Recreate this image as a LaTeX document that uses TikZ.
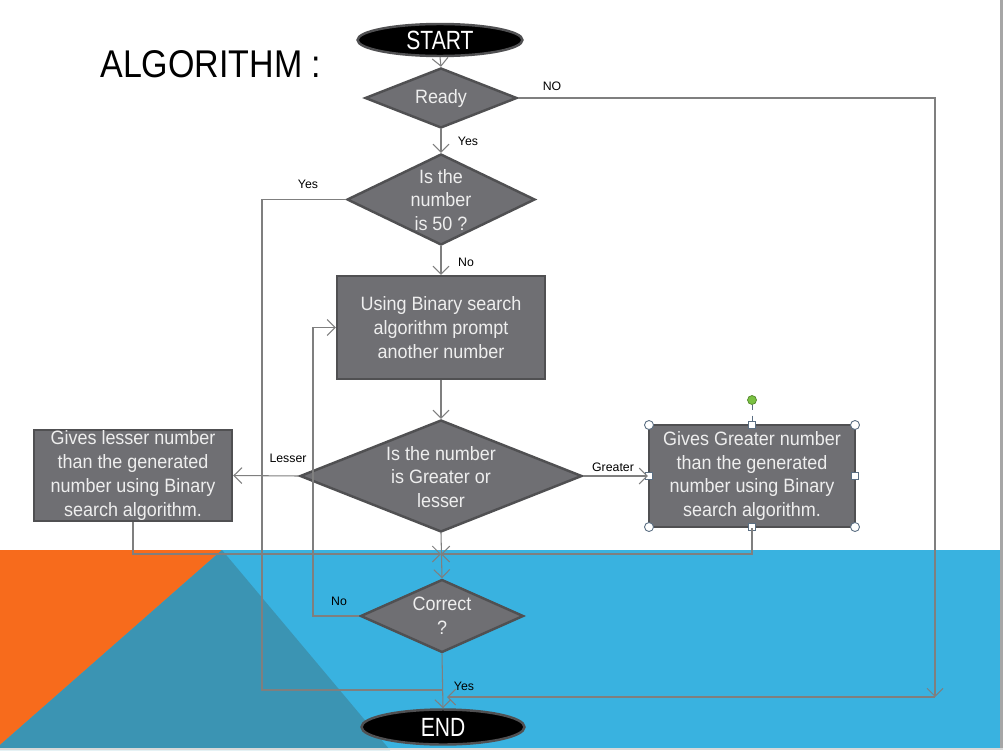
\documentclass[tikz,border=0pt]{standalone}
\usepackage{fontspec}
\newfontfamily\nf[FakeStretch=0.88]{Liberation Sans}
\newfontfamily\boxfont[FakeStretch=0.93]{Liberation Sans}
\newfontfamily\termfont[FakeStretch=0.8]{Liberation Sans}
\newfontfamily\lf{Liberation Sans}
\usetikzlibrary{shapes.geometric,arrows.meta}
\definecolor{bluec}{RGB}{57,178,224}
\definecolor{orangec}{RGB}{247,107,28}
\definecolor{tealc}{RGB}{59,148,179}
\definecolor{nodefill}{RGB}{111,111,115}
\definecolor{nodeborder}{RGB}{80,80,82}
\definecolor{connc}{RGB}{127,127,127}
\definecolor{txtc}{RGB}{238,238,238}
\definecolor{handlec}{RGB}{90,110,130}
\definecolor{greenc}{RGB}{122,193,66}
\tikzset{
  conn/.style={draw=connc, line width=0.6pt},
  arr/.style={conn, -{Straight Barb[length=4.5pt,width=9pt]}},
  term/.style={ellipse, fill=black, draw=nodeborder, line width=1.4pt, inner sep=0pt,
     text=white, font=\termfont\fontsize{15}{18}\selectfont},
  dec/.style={diamond, fill=nodefill, draw=nodeborder, line width=1.4pt, inner sep=0pt},
  dtext/.style={text=txtc, align=center, inner sep=0pt, font=\boxfont\fontsize{11}{13.6}\selectfont},
  proc/.style={rectangle, fill=nodefill, draw=nodeborder, line width=1.4pt, inner sep=0pt,
     text=txtc, align=center, font=\boxfont\fontsize{11}{13.6}\selectfont},
  lab/.style={text=black, inner sep=0pt, font=\lf\fontsize{7}{8}\selectfont},
  handle/.style={fill=white, draw=handlec, line width=0.5pt}
}
\begin{document}
\begin{tikzpicture}[x=0.02cm,y=-0.02cm]
% background
\fill[white] (0,0) rectangle (1003,750);
\useasboundingbox (0,0) rectangle (1003,750);
\fill[bluec] (0,550) rectangle (1003,750);
\fill[orangec] (0,550) -- (222,550) -- (0,745) -- cycle;
\fill[tealc] (222,550) -- (390,750) -- (0,750) -- (0,745) -- cycle;
\fill[black!35] (1000,0) rectangle (1003,750);
\fill[black!15] (0,748) rectangle (1003,750);

% title
\node[anchor=west, inner sep=0pt, font=\nf\fontsize{22}{26}\selectfont] (title) at (100,64) {ALGORITHM :};

% nodes
\node[term, minimum width=3.3cm, minimum height=0.64cm] (start) at (440,40) {START};
\node[dec, minimum width=3.04cm, minimum height=1.2cm] (ready) at (441,98) {};
\node[dtext] (readyt) at (441,99) {Ready};
\node[dec, minimum width=3.76cm, minimum height=1.82cm] (is50) at (441,199.5) {};
\node[dtext] (is50t) at (441,200) {Is the\\number\\is 50 ?};
\node[proc, minimum width=4.16cm, minimum height=2.06cm] (proc) at (441,327.5) {Using Binary search\\algorithm  prompt\\another number};
\node[dec, minimum width=5.64cm, minimum height=2.24cm] (gl) at (441,476) {};
\node[dtext] (glt) at (441,477) {Is the number\\is Greater  or\\lesser};
\node[proc, minimum width=3.96cm, minimum height=1.82cm] (lbox) at (133,475.5) {Gives lesser number\\than the generated\\number  using Binary\\search algorithm.};
\node[proc, minimum width=4.12cm, minimum height=2.04cm] (rbox) at (752,476) {Gives Greater  number\\than the generated\\number  using Binary\\search algorithm.};
\node[dec, minimum width=3.26cm, minimum height=1.46cm] (cor) at (442,616) {};
\node[dtext] (cort) at (442,616) {Correct\\?};
\node[term, minimum width=3.26cm, minimum height=0.7cm] (end) at (443,727) {END};

% selection handles on right box
\draw[handlec, line width=0.5pt, dashed] (752,405) -- (752,425);
\filldraw[fill=greenc, draw=greenc!70!black, line width=0.4pt] (752,400) circle (4.5);
\foreach \p in {(649,425),(855,425),(649,527),(855,527)} \filldraw[handle] \p circle (4.5);
\foreach \p in {(752,425),(752,527),(649,476),(855,476)} \filldraw[handle] \p ++(-3.5,-3.5) rectangle ++(7,7);

% coordinates
\coordinate (nc) at (935,697);
\coordinate (ne) at (447,697);
\coordinate (yj) at (443,690);
\coordinate (mj) at (441,554);

% connectors
\draw[arr] (start.south) -- (ready.north);
\draw[arr] (ready.east) -| (nc);
\draw[arr] (nc) -- (ne);
\draw[arr] (ready.south) -- (is50.north);
\draw[conn] (is50.west) -| (262,690) -- (yj);
\draw[arr] (is50.south) -- (proc.north);
\draw[arr] (proc.south) -- (gl.north);
\draw[arr] (gl.west) -- (lbox.east);
\draw[arr] (gl.east) -- (rbox.west);
\draw[arr] (lbox.south) |- (mj);
\draw[arr] (rbox.south) |- (mj);
\draw[arr] (gl.south) -- (cor.north);
\draw[arr] (cor.west) -- (313,616) -- (313,327.5) -- (proc.west);
\draw[arr] (cor.south) -- (end.north);

% labels
\node[lab] (lno) at (552,86) {NO};
\node[lab] (lyes1) at (468,141) {Yes};
\node[lab] (lyes2) at (308,184) {Yes};
\node[lab] (lno2) at (466,262) {No};
\node[lab] (lless) at (288,458) {Lesser};
\node[lab] (lgreat) at (613,467) {Greater};
\node[lab] (lno3) at (339,601) {No};
\node[lab] (lyes3) at (464,686) {Yes};
\end{tikzpicture}
\end{document}
